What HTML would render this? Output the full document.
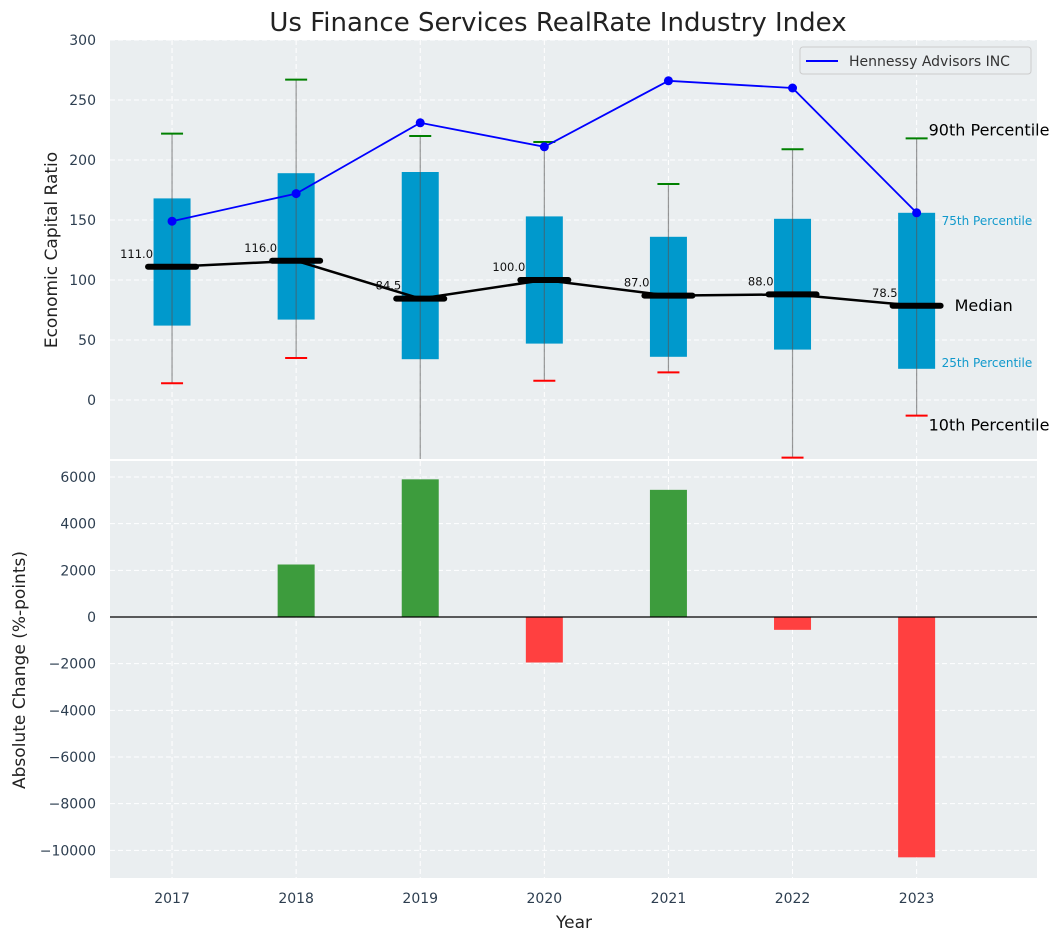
<!DOCTYPE html>
<html><head><meta charset="utf-8"><style>
body{margin:0;background:#fff;}
svg{display:block;font-family:"DejaVu Sans","Liberation Sans",sans-serif;}
</style></head><body>
<svg id="c" width="1063" height="942" viewBox="0 0 1063 942"></svg>
<script>
const years=[2017,2018,2019,2020,2021,2022,2023];
const q1=[62,67,34,47,36,42,26];
const q3=[168,189,190,153,136,151,156];
const p10=[14,35,-70,16,23,-48,-13];
const p90=[222,267,220,215,180,209,218];
const medians=[111,116,84.5,100,87,88,78.5];
const hennessy=[149,172,231,211,266,260,156];
const changes=[0,2250,5900,-1950,5450,-550,-10300];
const topTicks=[0,50,100,150,200,250,300];
const botTicks=[-10000,-8000,-6000,-4000,-2000,0,2000,4000,6000];

const NS="http://www.w3.org/2000/svg";
const svg=document.getElementById('c');
function el(t,a,p){const e=document.createElementNS(NS,t);for(const k in a)e.setAttribute(k,a[k]);(p||svg).appendChild(e);return e;}
const L=110,R=1037;
const xS=i=>L+(i+0.5)*(R-L)/7.47;
const topT=40,topB=459;
const yT=v=>400-v*1.2;
const botT=461,botB=878;
const yB=v=>617-v*0.023333;
const clipTop=el('clipPath',{id:'ct'});el('rect',{x:L,y:topT,width:R-L,height:topB-topT},clipTop);
const clipBot=el('clipPath',{id:'cb'});el('rect',{x:L,y:botT,width:R-L,height:botB-botT},clipBot);

let bg=el('rect',{x:L,y:topT,width:R-L,height:topB-topT,fill:'#eaeef0'});

bg=el('rect',{x:L,y:botT,width:R-L,height:botB-botT,fill:'#eaeef0'});


topTicks.forEach(v=>{el('line',{x1:L,x2:R,y1:yT(v),y2:yT(v),stroke:'#fff','stroke-dasharray':'5,3','stroke-width':1});
 const t=el('text',{x:96,y:yT(v)+5,'text-anchor':'end','font-size':14,fill:'#2d3e50'});t.textContent=v;
 });
botTicks.forEach(v=>{el('line',{x1:L,x2:R,y1:yB(v),y2:yB(v),stroke:'#fff','stroke-dasharray':'5,3','stroke-width':1});
 const t=el('text',{x:96,y:yB(v)+5,'text-anchor':'end','font-size':14,fill:'#2d3e50'});t.textContent=(v<0?'\u2212'+(-v):v);
 });
years.forEach((y,i)=>{const x=xS(i);
 el('line',{x1:x,x2:x,y1:topT,y2:topB,stroke:'#fff','stroke-dasharray':'5,3'});
 el('line',{x1:x,x2:x,y1:botT,y2:botB,stroke:'#fff','stroke-dasharray':'5,3'});
 const t=el('text',{x:x,y:903,'text-anchor':'middle','font-size':14,fill:'#2d3e50'});t.textContent=y;
 });

const gT=el('g',{'clip-path':'url(#ct)'});
years.forEach((y,i)=>{const x=xS(i),w=37;
 const b=el('rect',{x:x-w/2,y:yT(q3[i]),width:w,height:yT(q1[i])-yT(q3[i]),fill:'#0099cc'},gT);
 
 el('line',{x1:x,x2:x,y1:yT(p10[i]),y2:yT(p90[i]),stroke:'#555','stroke-opacity':0.6,'stroke-width':1.2},gT);
 el('line',{x1:x-11,x2:x+11,y1:yT(p90[i]),y2:yT(p90[i]),stroke:'green','stroke-width':2},gT);
 el('line',{x1:x-11,x2:x+11,y1:yT(p10[i]),y2:yT(p10[i]),stroke:'red','stroke-width':2},gT);
});
let pl=el('polyline',{points:medians.map((m,i)=>xS(i)+','+yT(m)).join(' '),fill:'none',stroke:'#000','stroke-width':2.5},gT);

medians.forEach((m,i)=>{const x=xS(i);
 const s=el('line',{x1:x-24,x2:x+24,y1:yT(m),y2:yT(m),stroke:'#000','stroke-width':6,'stroke-linecap':'round'},gT);
 
 const t=el('text',{x:x-19,y:yT(m)-9,'text-anchor':'end','font-size':11.5,fill:'#111'});t.textContent=m.toFixed(1);
 });
pl=el('polyline',{points:hennessy.map((m,i)=>xS(i)+','+yT(m)).join(' '),fill:'none',stroke:'#0000ff','stroke-width':1.8},gT);

hennessy.forEach((m,i)=>{const c=el('circle',{cx:xS(i),cy:yT(m),r:4.5,fill:'#0000ff'},gT);
 });

const last=6,xl=xS(last);
[[p90[last],'90th Percentile',16,'#000',12,-3],[q3[last],'75th Percentile',12,'#1199cc',25,12],
 [medians[last],'Median',16,'#000',38,5],[q1[last],'25th Percentile',12,'#1199cc',25,-2],[p10[last],'10th Percentile',16,'#000',12,15]]
.forEach(a=>{const t=el('text',{x:xl+a[4],y:yT(a[0])+a[5],'font-size':a[2],fill:a[3]});t.textContent=a[1];
 });

const lg=el('g',{});
el('rect',{x:800,y:47,width:231,height:27,rx:3,fill:'#eaeef0',stroke:'#ccc'},lg);
el('line',{x1:806,x2:838,y1:61,y2:61,stroke:'#0000ff','stroke-width':2},lg);
let t=el('text',{x:849,y:66,'font-size':14,fill:'#333'},lg);t.textContent='Hennessy Advisors INC';

const gB=el('g',{'clip-path':'url(#cb)'});
changes.forEach((v,i)=>{if(v===0)return;const x=xS(i),w=37;
 const b=el('rect',{x:x-w/2,y:Math.min(yB(v),yB(0)),width:w,height:Math.abs(yB(v)-yB(0)),fill:v>0?'#3d9c3d':'#ff4040'},gB);
 });
el('line',{x1:L,x2:R,y1:yB(0),y2:yB(0),stroke:'#000','stroke-width':1.2});

t=el('text',{x:558,y:31,'text-anchor':'middle','font-size':26,fill:'#222'});t.textContent='Us Finance Services RealRate Industry Index';

t=el('text',{x:0,y:0,'text-anchor':'middle','font-size':17,fill:'#222',transform:'translate(57,250) rotate(-90)'});t.textContent='Economic Capital Ratio';

t=el('text',{x:0,y:0,'text-anchor':'middle','font-size':17,fill:'#222',transform:'translate(25,670) rotate(-90)'});t.textContent='Absolute Change (%-points)';

t=el('text',{x:574,y:928,'text-anchor':'middle','font-size':17,fill:'#222'});t.textContent='Year';

</script>
</body></html>
